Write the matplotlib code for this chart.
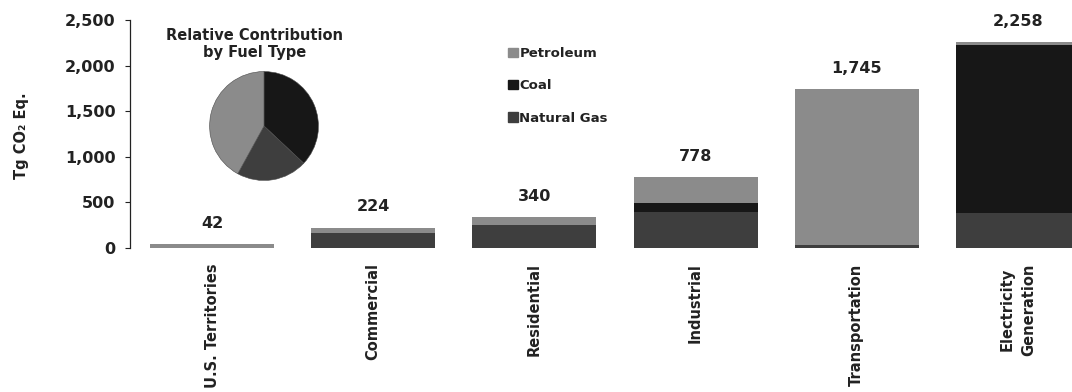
"""
CO2 emissions from fossil fuel combustion by end-use sector and fuel type
"""

import numpy as np
import matplotlib.pyplot as plt
from matplotlib.patches import Patch

# fuel colors (greyscale, as in the original)
PETROLEUM = '#8b8b8b'
COAL = '#171717'
NATGAS = '#3e3e3e'
INK = '#222222'

plt.rcParams['font.family'] = ['DejaVu Sans']
plt.rcParams['font.weight'] = 'bold'

# data (Tg CO2 Eq.)
sectors = ['U.S. Territories', 'Commercial', 'Residential', 'Industrial',
           'Transportation', 'Electricity\nGeneration']
natural_gas = [0, 165, 252, 390, 35, 384]
coal = [0, 4, 0, 100, 0, 1844]
petroleum = [42, 55, 88, 288, 1710, 30]
totals = [42, 224, 340, 778, 1745, 2258]

# pie: share of total by fuel (%)
pie_labels = ['Coal', 'Natural Gas', 'Petroleum']
pie_shares = [37, 21, 42]

W, H = 1072, 392
fig = plt.figure(figsize=(W / 100, H / 100), dpi=100, facecolor='white')
ax = fig.add_axes([130 / W, 1 - 248 / H, (W - 130) / W, (248 - 20) / H])

xs = np.arange(len(sectors))
ng = np.array(natural_gas)
cl = np.array(coal)
pe = np.array(petroleum)
width = 0.77

ax.bar(xs, ng, width, color=NATGAS, linewidth=0)
ax.bar(xs, cl, width, bottom=ng, color=COAL, linewidth=0)
ax.bar(xs, pe, width, bottom=ng + cl, color=PETROLEUM, linewidth=0)

for x, tot in zip(xs, totals):
    ax.annotate(f'{tot:,}', (x, tot), xytext=(0, 15), textcoords='offset points',
                ha='center', va='center', fontsize=11.5, fontweight='bold',
                color=INK)

ax.set_xlim(-0.509, 5.335)
ax.set_ylim(0, 2500)
ax.set_yticks([0, 500, 1000, 1500, 2000, 2500])
ax.set_yticklabels([f'{v:,}' for v in [0, 500, 1000, 1500, 2000, 2500]])
ax.set_xticks(xs)
ax.set_xticklabels(sectors, rotation=90, fontsize=10.5, fontweight='bold',
                   linespacing=1.5)
ax.tick_params(axis='x', length=0, pad=11, colors=INK)
ax.tick_params(axis='y', length=3.5, width=0.8, pad=7, labelsize=11.5,
               colors=INK)
for side in ['top', 'right', 'bottom']:
    ax.spines[side].set_visible(False)
ax.spines['left'].set_color(INK)
ax.spines['left'].set_linewidth(0.9)

fig.text(22 / W, 1 - 136 / H, 'Tg CO₂ Eq.', rotation=90, ha='center',
         va='center', fontsize=10.5, fontweight='bold', color=INK)

# inset pie
pax = fig.add_axes([(264 - 55) / W, 1 - (126 + 55) / H, 110 / W, 110 / H])
pax.pie(pie_shares, colors=[COAL, NATGAS, PETROLEUM], startangle=90,
        counterclock=False, wedgeprops=dict(linewidth=0.4, edgecolor='#4a4a4a'))
pax.set_xlim(-1.01, 1.01)
pax.set_ylim(-1.01, 1.01)
pax.set_aspect('equal')
fig.text(255 / W, 1 - 44 / H, 'Relative Contribution\nby Fuel Type',
         ha='center', va='center', fontsize=10.5, fontweight='bold',
         color=INK, linespacing=1.2)

# legend
handles = [Patch(color=PETROLEUM, label='Petroleum'),
           Patch(color=COAL, label='Coal'),
           Patch(color=NATGAS, label='Natural Gas')]
fig.legend(handles=handles, loc='upper left',
           bbox_to_anchor=(503 / W, 1 - 42 / H), frameon=False,
           prop=dict(size=9.5, weight='bold'), handlelength=0.7,
           handleheight=0.7, handletextpad=0.15, labelspacing=1.45,
           borderaxespad=0, labelcolor=INK)

plt.savefig('out.png', dpi=100, facecolor='white')
plt.close()
